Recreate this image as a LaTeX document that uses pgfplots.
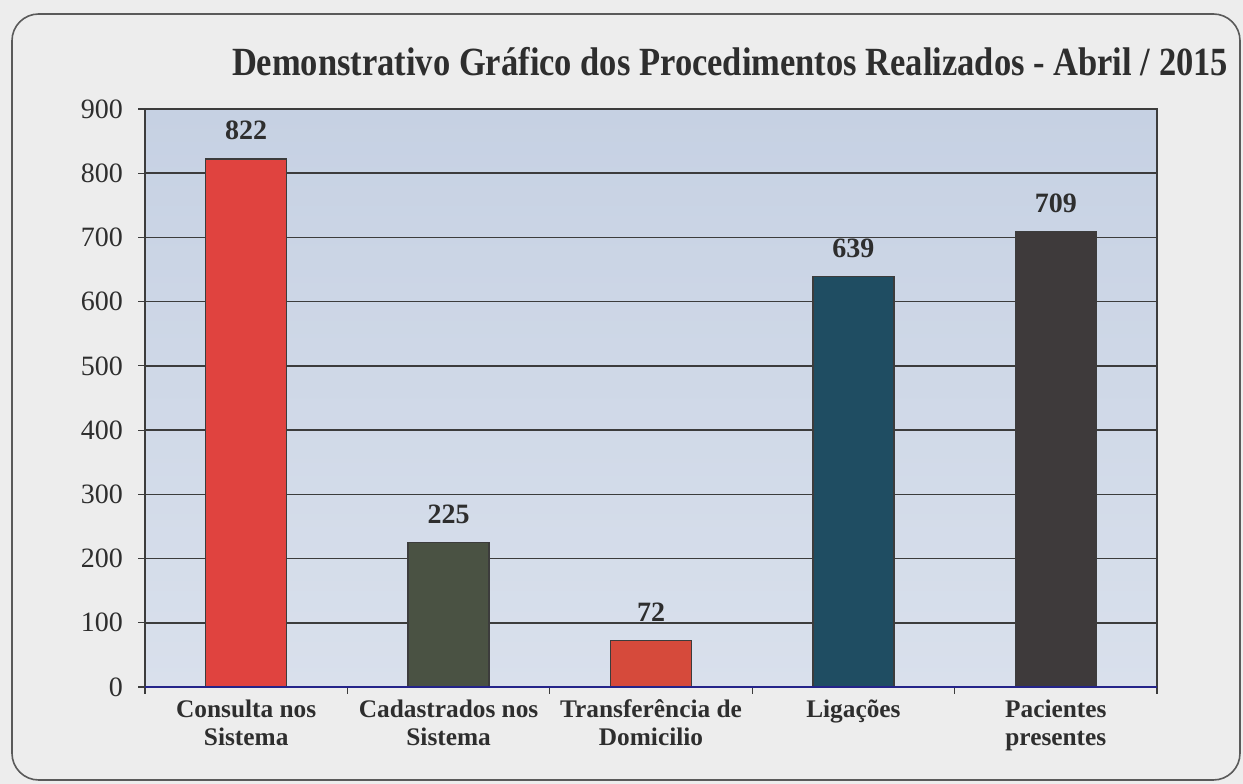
\documentclass[border=0pt]{standalone}
\usepackage{pgfplots}
\pgfplotsset{compat=1.18}
\usepackage{graphicx}
\usepackage{fontspec}
\setmainfont{Liberation Serif}
\definecolor{bgc}{HTML}{EDEDED}
\definecolor{framec}{HTML}{5A5A5A}
\definecolor{plottop}{HTML}{C6D1E3}
\definecolor{plotbot}{HTML}{D9E0EC}
\definecolor{gridc}{HTML}{3C3C3C}
\definecolor{txtc}{HTML}{2E2E2E}
\definecolor{barA}{HTML}{E0433F}
\definecolor{barB}{HTML}{4A5243}
\definecolor{barC}{HTML}{D64A3B}
\definecolor{barD}{HTML}{1F4D62}
\definecolor{barE}{HTML}{3E3A3B}
\begin{document}
\begin{tikzpicture}[x=0.75pt,y=0.75pt]
\fill[bgc] (0,0) rectangle (1243,784);
\draw[framec, line width=1.2pt, fill=bgc, rounded corners=20pt] (12,4) rectangle (1240,770);
\node[txtc, anchor=center] at (730,722) {\resizebox{747pt}{\height}{\fontsize{30}{30}\selectfont\bfseries Demonstrativo Gráfico dos Procedimentos Realizados - Abril / 2015}};
\begin{axis}[
  at={(108.75pt,72.75pt)}, anchor=south west,
  width=759pt, height=433.5pt, scale only axis,
  ybar, bar shift=0pt, bar width=60.75pt,
  xmin=-0.5, xmax=4.5, ymin=0, ymax=900,
  ytick={0,100,...,900},
  xtick={0,1,2,3,4},
  xticklabels={{Consulta nos\\Sistema},{Cadastrados nos\\Sistema},{Transferência de\\Domicilio},{Ligações},{Pacientes\\presentes}},
  minor xtick={-0.5,0.5,1.5,2.5,3.5,4.5},
  major x tick style={draw=none},
  minor x tick style={gridc, line width=0.9pt},
  ytick style={gridc, line width=0.9pt},
  ytick pos=left, xtick pos=bottom,
  tick align=outside, major tick length=5pt, minor tick length=5pt,
  ymajorgrids, grid style={gridc, line width=1.1pt},
  axis line style={gridc, line width=0.8pt},
  axis x line*=bottom, 
  axis background/.style={shade, top color=plottop, bottom color=plotbot},
  /pgf/number format/assume math mode=true,
  yticklabel style={font=\fontsize{21}{21}\selectfont, text=txtc, xshift=-8pt},
  xticklabel style={font=\fontsize{19}{21}\selectfont\bfseries, text=txtc, align=center, anchor=north, yshift=-1pt},
  nodes near coords,
  every node near coord/.append style={font=\fontsize{21}{21}\selectfont\bfseries, text=txtc, yshift=10.5pt},
  clip=false,
]
\addplot[fill=barA, draw=gridc, line width=1pt] coordinates {(0,822)};
\addplot[fill=barB, draw=gridc, line width=1pt] coordinates {(1,225)};
\addplot[fill=barC, draw=gridc, line width=1pt] coordinates {(2,72)};
\addplot[fill=barD, draw=gridc, line width=1pt] coordinates {(3,639)};
\addplot[fill=barE, draw=gridc, line width=1pt] coordinates {(4,709)};
\draw[gridc, line width=1pt] (rel axis cs:0,0) -- (rel axis cs:0,1) -- (rel axis cs:1,1) -- (rel axis cs:1,0);
\draw[blue!40!gridc, line width=1.4pt] (rel axis cs:0,0) -- (rel axis cs:1,0);
\end{axis}
\pgfresetboundingbox
\path (0,0) rectangle (1243,784);
\end{tikzpicture}
\end{document}
